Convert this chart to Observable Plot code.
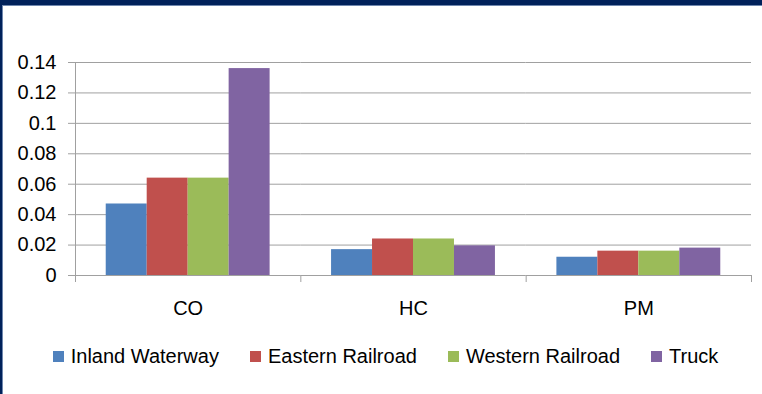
<!DOCTYPE html>
<html>
<head>
<meta charset="utf-8">
<script src="https://cdn.jsdelivr.net/npm/d3@7"></script>
<script src="https://cdn.jsdelivr.net/npm/@observablehq/plot@0.6"></script>
<style>
  html, body { margin: 0; padding: 0; background: #fff; }
  #outer { width: 762px; height: 394px; box-sizing: border-box; border-top: 5px solid #00215a; border-left: 2px solid #00215a; overflow: hidden; }
  #inner { height: 100%; box-sizing: border-box; border-top: 1px solid #6f87ae; border-left: 1px solid #6f87ae; }
  #legend { display: flex; justify-content: center; align-items: center; height: 52px; font-family: "Liberation Sans", Arial, sans-serif; font-size: 20px; color: #000; padding-left: 6px; }
  .item { display: flex; align-items: center; margin: 0 15.5px; }
  .sw { width: 11px; height: 11px; margin-right: 7px; }
  svg { display: block; }
</style>
</head>
<body>
<div id="outer"><div id="inner"><div id="chart"></div><div id="legend"></div></div></div>
<script>
const pollutants = ["CO", "HC", "PM"];
const modes = ["Inland Waterway", "Eastern Railroad", "Western Railroad", "Truck"];
const inlandWaterway = [0.047, 0.017, 0.012];
const easternRailroad = [0.064, 0.024, 0.016];
const westernRailroad = [0.064, 0.024, 0.016];
const truck = [0.136, 0.0195, 0.018];
const colors = ["#4F81BD", "#C0504D", "#9BBB59", "#8064A2"];
const yTicks = [0, 0.02, 0.04, 0.06, 0.08, 0.1, 0.12, 0.14];
const yTickLabels = ["0", "0.02", "0.04", "0.06", "0.08", "0.1", "0.12", "0.14"];

const series = [inlandWaterway, easternRailroad, westernRailroad, truck];
const data = pollutants.flatMap((p, i) => modes.map((m, j) => ({pollutant: p, mode: m, value: series[j][i]})));

const grid = "#a0a0a0";
const chart = Plot.plot({
  width: 759,
  height: 324,
  marginLeft: 72,
  marginRight: 11,
  marginTop: 56,
  marginBottom: 55,
  style: {fontFamily: "'Liberation Sans', Arial, sans-serif", fontSize: "20px", color: "#000", background: "#fff"},
  fx: {domain: pollutants, padding: 0, round: false, label: null},
  x: {domain: modes, paddingInner: 0, paddingOuter: 0.75, round: false, axis: null},
  y: {domain: [0, 0.14], label: null},
  color: {domain: modes, range: colors},
  marks: [
    Plot.gridY(yTicks.filter(d => d > 0), {stroke: grid, strokeOpacity: 1}),
    Plot.barY(data, {fx: "pollutant", x: "mode", y: "value", fill: "mode"}),
    Plot.ruleY([0], {stroke: grid}),
    Plot.frame({anchor: "left", facetAnchor: "left", stroke: grid, insetBottom: -6}),
    Plot.frame({anchor: "right", stroke: grid, insetTop: 213, insetBottom: -6}),
    Plot.axisY({ticks: yTicks, tickFormat: d => yTickLabels[yTicks.indexOf(d)], tickSize: 7, tickPadding: 12, stroke: grid, fill: "#000", label: null}),
    Plot.axisFx({anchor: "bottom", tickSize: 0, tickPadding: 25, label: null, fill: "#000"})
  ]
});
document.getElementById("chart").appendChild(chart);

const legend = document.getElementById("legend");
modes.forEach((m, i) => {
  const item = document.createElement("div");
  item.className = "item";
  const sw = document.createElement("span");
  sw.className = "sw";
  sw.style.background = colors[i];
  const t = document.createElement("span");
  t.textContent = m;
  item.appendChild(sw);
  item.appendChild(t);
  legend.appendChild(item);
});
</script>
</body>
</html>
